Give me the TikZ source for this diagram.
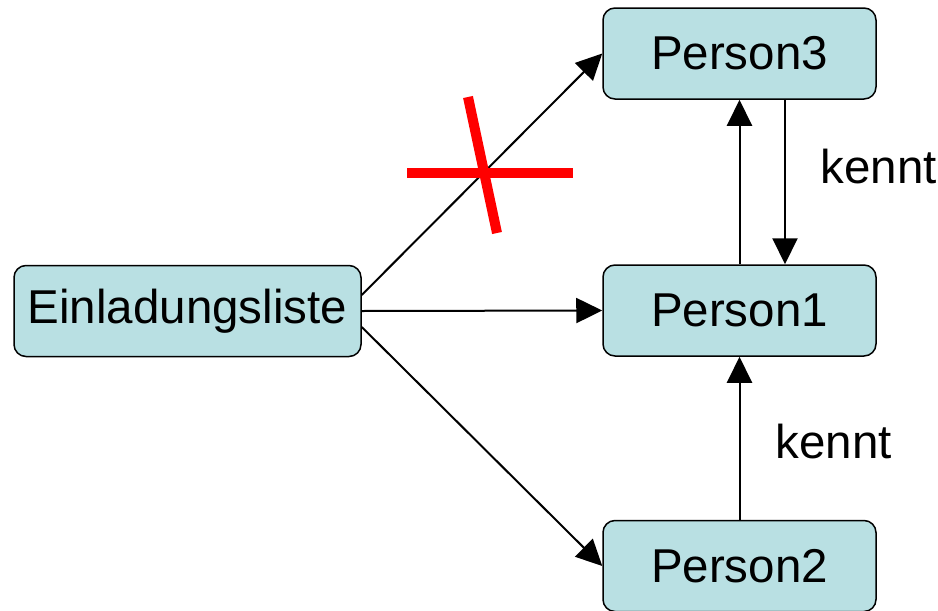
\documentclass[tikz,border=0pt]{standalone}
\usepackage{fontspec}
\setmainfont{Liberation Sans}
\usetikzlibrary{arrows, arrows.meta, calc}
\definecolor{boxfill}{RGB}{185,224,227}
\tikzset{
	box/.style={draw, fill=boxfill, line width=1.5pt, rounded corners=12pt,
		minimum width=273pt, minimum height=91pt, inner sep=0pt},
	link/.style={->, line width=2pt},
	cross/.style={red, line width=10pt}
}

\begin{document}
\begin{tikzpicture}[x=1pt, y=-1pt, >={Triangle[length=26pt,width=25pt]},
	font=\fontsize{47.5}{57}\selectfont]
		\useasboundingbox (0,0) rectangle (938,611);
		
		%========================
		% boxes
		%========================
		\node[box, minimum width=347pt] (liste) at (187.5,311) {Einladungsliste};
		\node[box] (person3) at (739.5,53.5) {Person3};
		\node[box] (person1) at (739.5,310.5) {Person1};
		\node[box] (person2) at (739.5,566) {Person2};
		
		%========================
		% links from the list
		%========================
		\draw[link] ([yshift=16pt]liste.east) -- (person3.west);
		\draw[link] (liste.east) -- (person1.west);
		\draw[link] ([yshift=-16pt]liste.east) -- (person2.west);
		
		% crossed out link
		\draw[cross] (407,173) -- (573,173);
		\draw[cross] (468,97) -- (497,233);
		
		%========================
		% kennt
		%========================
		\draw[link] (person1.north) -- (person3.south);
		\draw[link] ([xshift=45.5pt]person3.south) -- ([xshift=45.5pt]person1.north);
		\draw[link] (person2.north) -- (person1.south);
		\node[anchor=base west] (kennt1) at (817,183) {kennt};
		\node[anchor=base west] (kennt2) at (772,458) {kennt};
		
	\end{tikzpicture}
\end{document}
